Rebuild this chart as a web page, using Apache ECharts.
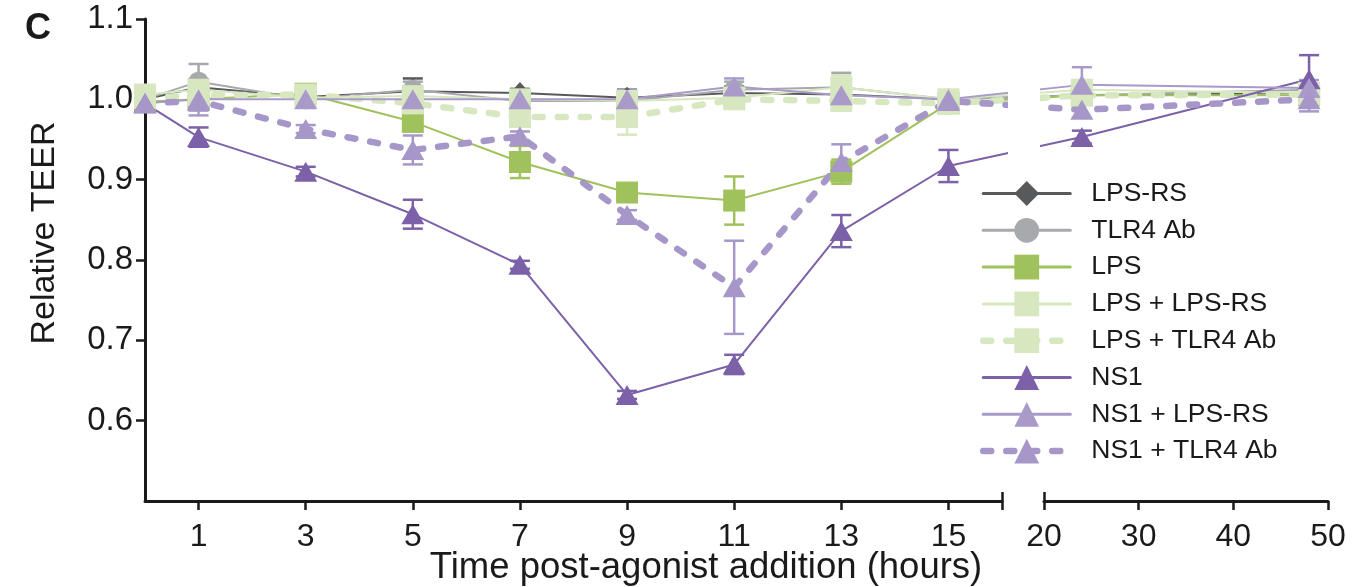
<!DOCTYPE html>
<html><head><meta charset="utf-8">
<script src="https://cdn.jsdelivr.net/npm/echarts@6/dist/echarts.min.js"></script>
<style>html,body{margin:0;padding:0;background:#fff}#c{width:1356px;height:587px}</style>
</head><body><div id="c"></div>
<script>
// ---------------- data ----------------
const times = [0, 1, 3, 5, 7, 9, 11, 13, 15, 24, 48];
const seriesNames = ['LPS-RS', 'TLR4 Ab', 'LPS', 'LPS + LPS-RS', 'LPS + TLR4 Ab', 'NS1', 'NS1 + LPS-RS', 'NS1 + TLR4 Ab'];

const lpsRs        = [1.000, 1.015, 1.003, 1.010, 1.008, 1.002, 1.008, 1.006, 1.000, 1.005, 1.008];
const lpsRsErr     = [0.003, 0.010, 0.004, 0.016, 0.005, 0.010, 0.008, 0.010, 0.004, 0.005, 0.005];
const tlr4         = [1.000, 1.022, 1.000, 1.012, 0.998, 0.998, 1.012, 1.015, 1.000, 1.005, 1.012];
const tlr4Err      = [0.003, 0.022, 0.005, 0.010, 0.005, 0.008, 0.010, 0.018, 0.005, 0.005, 0.008];
const lps          = [0.997, 1.000, 1.007, 0.972, 0.922, 0.884, 0.874, 0.910, 0.995, 1.005, 1.005];
const lpsErr       = [0.005, 0.005, 0.005, 0.012, 0.020, 0.005, 0.030, 0.015, 0.005, 0.005, 0.005];
const lpsPlusRs    = [1.006, 1.012, 1.002, 1.004, 1.000, 0.998, 1.002, 1.015, 1.000, 1.012, 1.008];
const lpsPlusRsErr = [0.005, 0.010, 0.005, 0.012, 0.005, 0.008, 0.006, 0.015, 0.005, 0.010, 0.005];
const lpsPlusTlr4    = [1.002, 1.005, 1.006, 0.995, 0.978, 0.978, 1.000, 0.998, 0.995, 1.005, 1.006];
const lpsPlusTlr4Err = [0.005, 0.010, 0.005, 0.008, 0.010, 0.022, 0.008, 0.010, 0.005, 0.005, 0.005];
const ns1          = [0.995, 0.953, 0.910, 0.857, 0.794, 0.632, 0.670, 0.836, 0.917, 0.953, 1.025];
const ns1Err       = [0.005, 0.012, 0.006, 0.018, 0.005, 0.005, 0.012, 0.020, 0.020, 0.008, 0.030];
const ns1PlusRs    = [0.995, 1.000, 1.000, 1.000, 1.000, 1.000, 1.016, 1.005, 1.000, 1.018, 1.014];
const ns1PlusRsErr = [0.005, 0.020, 0.005, 0.008, 0.005, 0.012, 0.010, 0.010, 0.010, 0.022, 0.010];
const ns1PlusTlr4    = [0.995, 0.998, 0.963, 0.937, 0.954, 0.856, 0.766, 0.922, 0.998, 0.987, 1.000];
const ns1PlusTlr4Err = [0.005, 0.012, 0.005, 0.018, 0.006, 0.006, 0.058, 0.022, 0.012, 0.010, 0.015];

const leftTicks  = [1, 3, 5, 7, 9, 11, 13, 15];
const rightTicks = [20, 30, 40, 50];
const yTicks     = [0.6, 0.7, 0.8, 0.9, 1.0, 1.1];

const values = [lpsRs, tlr4, lps, lpsPlusRs, lpsPlusTlr4, ns1, ns1PlusRs, ns1PlusTlr4];
const errors = [lpsRsErr, tlr4Err, lpsErr, lpsPlusRsErr, lpsPlusTlr4Err, ns1Err, ns1PlusRsErr, ns1PlusTlr4Err];

// ---------------- layout / style ----------------
const FONT = "'Liberation Sans', Arial, Helvetica, sans-serif";
const PLOT_LEFT = 145, PLOT_TOP = 19, PLOT_H = 482;
const LEFT_W = 857, GAP_W = 42, RIGHT_W = 284;
const LEFT_MIN = 0, LEFT_MAX = 16, RIGHT_MIN = 20, RIGHT_MAX = 50;
const Y_MIN = 0.5, Y_MAX = 1.1;
const pxPerH = LEFT_W / (LEFT_MAX - LEFT_MIN);
// broken-axis scale: hours -> left-panel hour units
function u(t) {
  return t <= LEFT_MAX ? t
    : (LEFT_W + GAP_W + (t - RIGHT_MIN) * RIGHT_W / (RIGHT_MAX - RIGHT_MIN)) / pxPerH;
}
const U_MAX = u(RIGHT_MAX);

const DASH = [8, 15];
const styles = [
  { color: '#58595b', symbol: 'diamond',  size: [20, 22], width: 2, type: 'solid' },
  { color: '#a7a9ac', symbol: 'circle',   size: 20, width: 2, type: 'solid' },
  { color: '#a0c25c', symbol: 'rect',     size: 22, width: 2, type: 'solid' },
  { color: '#d7e7c0', symbol: 'rect',     size: 22, width: 2, type: 'solid' },
  { color: '#d7e7c0', symbol: 'rect',     size: 22, width: 6.5, type: DASH },
  { color: '#7c60a8', symbol: 'triangle', size: [23, 20], width: 2, type: 'solid' },
  { color: '#a99aca', symbol: 'triangle', size: [23, 20], width: 2, type: 'solid' },
  { color: '#a697c8', symbol: 'triangle', size: [23, 20], width: 6.5, type: DASH },
];

const series = [];
seriesNames.forEach((name, i) => {
  const st = styles[i];
  series.push({
    type: 'custom', name: name + ' err', xAxisIndex: 2, yAxisIndex: 2,
    silent: true, clip: false,
    data: times.map((t, k) => [u(t), values[i][k] - errors[i][k], values[i][k] + errors[i][k]]),
    renderItem: function (params, api) {
      const x = api.value(0);
      const lo = api.coord([x, api.value(1)]);
      const hi = api.coord([x, api.value(2)]);
      const hw = 10;
      const ls = { stroke: st.color, lineWidth: 2.5 };
      return { type: 'group', children: [
        { type: 'line', shape: { x1: lo[0], y1: lo[1], x2: hi[0], y2: hi[1] }, style: ls },
        { type: 'line', shape: { x1: lo[0] - hw, y1: lo[1], x2: lo[0] + hw, y2: lo[1] }, style: ls },
        { type: 'line', shape: { x1: hi[0] - hw, y1: hi[1], x2: hi[0] + hw, y2: hi[1] }, style: ls },
      ] };
    }
  });
  series.push({
    type: 'line', name: name, xAxisIndex: 2, yAxisIndex: 2,
    data: times.map((t, k) => [u(t), values[i][k]]),
    symbol: st.symbol, symbolSize: st.size, showSymbol: true,
    itemStyle: { color: st.color, opacity: 1 },
    lineStyle: { color: st.color, width: st.width, type: st.type, cap: 'round' },
    clip: false, silent: true,
  });
});

const axisLineStyle = { color: '#1a1a1a', width: 3 };
const tickStyle = { color: '#1a1a1a', width: 2.5 };
const labelStyle = { color: '#1a1a1a', fontSize: 32, fontFamily: FONT };

const option = {
  animation: false,
  backgroundColor: '#ffffff',
  grid: [
    { left: PLOT_LEFT, top: PLOT_TOP, width: LEFT_W, height: PLOT_H },
    { left: PLOT_LEFT + LEFT_W + GAP_W, top: PLOT_TOP, width: RIGHT_W, height: PLOT_H },
    { left: PLOT_LEFT, top: PLOT_TOP, width: LEFT_W + GAP_W + RIGHT_W, height: PLOT_H },
  ],
  xAxis: [
    { gridIndex: 0, type: 'value', min: LEFT_MIN, max: LEFT_MAX,
      axisLine: { show: true, lineStyle: axisLineStyle },
      axisTick: { show: true, length: 9, lineStyle: tickStyle, customValues: leftTicks.concat([LEFT_MAX]) },
      axisLabel: Object.assign({ margin: 20, customValues: leftTicks }, labelStyle),
      splitLine: { show: false } },
    { gridIndex: 1, type: 'value', min: RIGHT_MIN, max: RIGHT_MAX, interval: 10,
      axisLine: { show: true, lineStyle: axisLineStyle },
      axisTick: { show: true, length: 9, lineStyle: tickStyle, customValues: rightTicks },
      axisLabel: Object.assign({ margin: 20, customValues: rightTicks }, labelStyle),
      splitLine: { show: false } },
    { gridIndex: 2, type: 'value', min: 0, max: U_MAX, show: false },
    { gridIndex: 0, type: 'value', min: LEFT_MIN, max: LEFT_MAX, position: 'bottom',
      axisLine: { show: false }, axisLabel: { show: false }, splitLine: { show: false },
      axisTick: { show: true, inside: true, length: 9, lineStyle: tickStyle, customValues: [LEFT_MAX] } },
    { gridIndex: 1, type: 'value', min: RIGHT_MIN, max: RIGHT_MAX, position: 'bottom',
      axisLine: { show: false }, axisLabel: { show: false }, splitLine: { show: false },
      axisTick: { show: true, inside: true, length: 9, lineStyle: tickStyle, customValues: [RIGHT_MIN] } },
  ],
  yAxis: [
    { gridIndex: 0, type: 'value', min: Y_MIN, max: Y_MAX, interval: 0.1,
      axisLine: { show: true, lineStyle: axisLineStyle },
      axisTick: { show: true, length: 9, lineStyle: tickStyle, customValues: yTicks },
      axisLabel: Object.assign({ margin: 12, customValues: yTicks, formatter: v => Number(v).toFixed(1) },
                               labelStyle, { fontSize: 33 }),
      splitLine: { show: false } },
    { gridIndex: 1, type: 'value', min: Y_MIN, max: Y_MAX, show: false },
    { gridIndex: 2, type: 'value', min: Y_MIN, max: Y_MAX, show: false },
  ],
  legend: {
    data: seriesNames.map((name, i) => ({
      name: name,
      lineStyle: { width: styles[i].width > 3 ? styles[i].width : 3 },
    })),
    orient: 'vertical', left: 980, top: 180, padding: 0,
    itemWidth: 87, itemHeight: 31, itemGap: 9.8,
    textStyle: { color: '#1a1a1a', fontSize: 26.5, fontFamily: FONT, padding: [0, 0, 0, 16] },
    selectedMode: false,
  },
  graphic: [
    { type: 'rect', z: 100, silent: true,
      shape: { x: PLOT_LEFT + LEFT_W + 6, y: 0, width: GAP_W - 10, height: 168 },
      style: { fill: '#ffffff' } },
    { type: 'text', z: 100, x: 706, y: 568,
      style: { text: 'Time post-agonist addition (hours)', fill: '#1a1a1a', fontSize: 36.5, fontFamily: FONT,
               textAlign: 'center', textVerticalAlign: 'middle' } },
    { type: 'text', z: 100, x: 45, y: 233, rotation: Math.PI / 2,
      style: { text: 'Relative TEER', fill: '#1a1a1a', fontSize: 34, fontFamily: FONT,
               textAlign: 'center', textVerticalAlign: 'middle' } },
    { type: 'text', z: 100, x: 38, y: 29,
      style: { text: 'C', fill: '#1a1a1a', fontSize: 36, fontWeight: 'bold', fontFamily: FONT,
               textAlign: 'center', textVerticalAlign: 'middle' } },
  ],
  series: series,
};

const chart = echarts.init(document.getElementById('c'), null, { renderer: 'canvas' });
chart.setOption(option);
</script>
</body></html>
